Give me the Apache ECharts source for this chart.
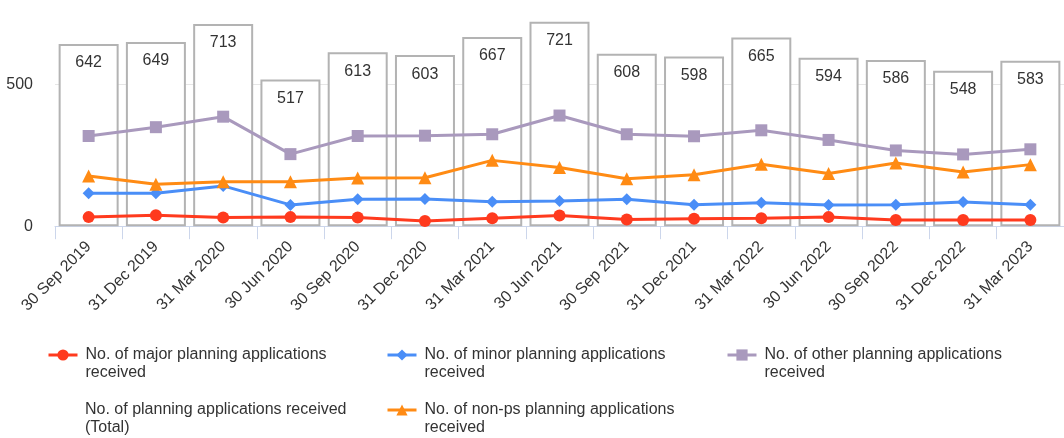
<!DOCTYPE html>
<html>
<head>
<meta charset="utf-8">
<script src="https://cdn.jsdelivr.net/npm/echarts@6/dist/echarts.min.js"></script>
<style>
html,body{margin:0;padding:0;background:#fff;}
#chart{width:1064px;height:438px;}
</style>
</head>
<body>
<div id="chart"></div>
<script>
var categories = ['30 Sep 2019','31 Dec 2019','31 Mar 2020','30 Jun 2020','30 Sep 2020','31 Dec 2020','31 Mar 2021','30 Jun 2021','30 Sep 2021','31 Dec 2021','31 Mar 2022','30 Jun 2022','30 Sep 2022','31 Dec 2022','31 Mar 2023'];
var totalApps = [642,649,713,517,613,603,667,721,608,598,665,594,586,548,583];
var majorApps = [32,39,31,32,31,18,28,38,24,26,28,32,22,22,22];
var minorApps = [116,116,142,75,95,96,86,89,95,76,83,75,76,85,76];
var otherApps = [318,349,386,254,318,319,324,390,324,317,338,304,267,253,271];
var nonpsApps = [177,148,157,157,170,171,232,207,167,181,218,186,223,191,217];
var yTicks = [0, 500];

var NAMES = {
  major: 'No. of major planning applications received',
  minor: 'No. of minor planning applications received',
  other: 'No. of other planning applications received',
  total: 'No. of planning applications received (Total)',
  nonps: 'No. of non-ps planning applications received'
};
var FONT = "'Liberation Sans', Arial, sans-serif";
var TXT = '#333333';

function legendAt(name, left, top, extra) {
  var d = {name: name};
  if (extra) { for (var k in extra) d[k] = extra[k]; }
  return {
    data: [d], left: left, top: top, padding: 0, orient: 'horizontal',
    itemWidth: 29, itemHeight: 14, selectedMode: false,
    lineStyle: {width: 3},
    formatter: function (n) { return '\n' + n; },
    textStyle: {fontSize: 16, color: TXT, fontFamily: FONT, width: 282, overflow: 'break', lineHeight: 18, padding: [0, 0, 0, 3]}
  };
}

var chart = echarts.init(document.getElementById('chart'), null, {renderer: 'canvas'});
var lineBase = function(name, data, color, symbol, size) {
  return {
    name: name, type: 'line', data: data, z: 5,
    symbol: symbol, symbolSize: size,
    lineStyle: {color: color, width: 3},
    itemStyle: {color: color},
    emphasis: {disabled: true}
  };
};

chart.setOption({
  animation: false,
  textStyle: {fontFamily: FONT},
  grid: {left: 55, right: -1, top: 13.4, bottom: 211.8, containLabel: false},
  legend: [
    legendAt(NAMES.major, 47, 328),
    legendAt(NAMES.minor, 386, 328),
    legendAt(NAMES.other, 726, 328),
    legendAt(NAMES.total, 47, 383, {itemStyle: {opacity: 0}}),
    legendAt(NAMES.nonps, 386, 383)
  ],
  xAxis: {
    type: 'category', data: categories, boundaryGap: true,
    axisLine: {lineStyle: {color: '#ccd6eb', width: 1}},
    axisTick: {show: true, length: 13, lineStyle: {color: '#ccd6eb'}},
    axisLabel: {rotate: 45, fontSize: 16, color: TXT, fontFamily: FONT, margin: 18, interval: 0}
  },
  yAxis: {
    type: 'value', min: yTicks[0], max: 750, interval: yTicks[1] - yTicks[0],
    axisLine: {show: false}, axisTick: {show: false},
    axisLabel: {fontSize: 16, color: TXT, fontFamily: FONT, margin: 22, showMaxLabel: false},
    splitLine: {show: true, showMinLine: false, showMaxLine: false, lineStyle: {color: '#e6e6e6', width: 1}}
  },
  series: [
    {
      name: NAMES.total, type: 'bar', data: totalApps, z: 1, barWidth: 60,
      itemStyle: {color: '#ffffff', borderColor: '#b3b3b3', borderWidth: 2},
      label: {show: true, position: 'insideTop', distance: 11, fontSize: 16, color: TXT, fontFamily: FONT},
      emphasis: {disabled: true}
    },
    lineBase(NAMES.major, majorApps, '#ff3a1e', 'circle', 12),
    lineBase(NAMES.minor, minorApps, '#4a8ef7', 'diamond', 12),
    lineBase(NAMES.other, otherApps, '#a999bd', 'rect', 12),
    lineBase(NAMES.nonps, nonpsApps, '#ff8b14', 'triangle', 13)
  ]
});
</script>
</body>
</html>
